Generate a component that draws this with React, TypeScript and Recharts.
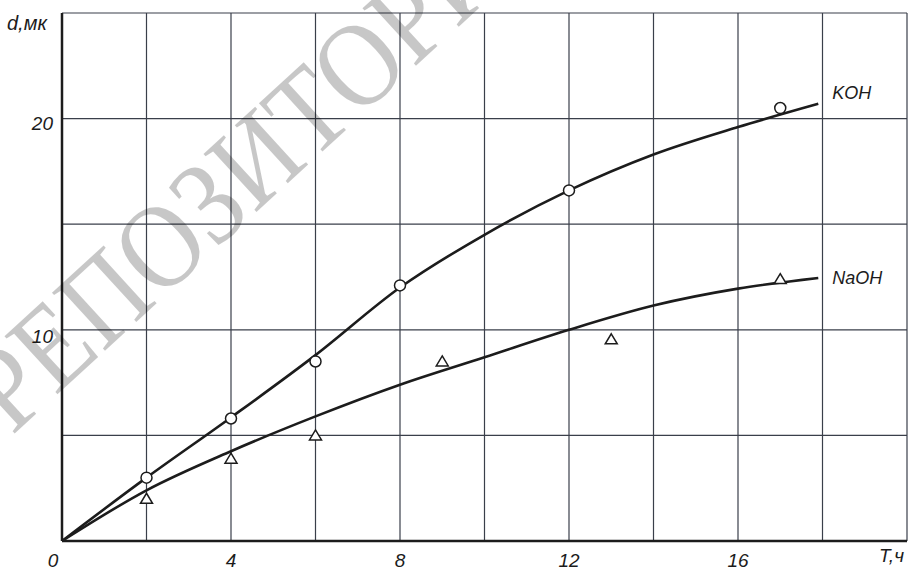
import React from 'react';
import { ComposedChart, Line, Scatter, XAxis, YAxis, CartesianGrid } from 'recharts';

// Smooth fitted curves (T, hours -> d, microns)
const kohCurveT = [0, 2, 4, 6, 8, 10, 12, 14, 16, 17.9];
const kohCurveD = [0, 3.0, 5.85, 8.8, 12.0, 14.5, 16.6, 18.3, 19.6, 20.7];
const naohCurveT = [0, 2, 4, 6, 8, 10, 12, 14, 16, 17.9];
const naohCurveD = [0, 2.4, 4.25, 5.9, 7.4, 8.7, 10.0, 11.15, 11.95, 12.45];

// Measured points
const kohPointT = [2, 4, 6, 8, 12, 17];
const kohPointD = [3.0, 5.8, 8.5, 12.1, 16.6, 20.5];
const naohPointT = [2, 4, 6, 9, 13, 17];
const naohPointD = [2.0, 3.9, 5.0, 8.5, 9.55, 12.4];

const xTicks = [0, 2, 4, 6, 8, 10, 12, 14, 16, 18, 20];
const xLabeled = [0, 4, 8, 12, 16];
const yTicks = [0, 5, 10, 15, 20, 25];
const yLabeled = [10, 20];

const zip = (xs: number[], ys: number[]) => xs.map((x, i) => ({ x, y: ys[i] }));
const kohCurve = zip(kohCurveT, kohCurveD);
const naohCurve = zip(naohCurveT, naohCurveD);
const kohPoints = zip(kohPointT, kohPointD);
const naohPoints = zip(naohPointT, naohPointD);

const FONT = "'Liberation Sans', Arial, sans-serif";
const INK = '#1c1c1c';

const XTick = (p: any) => {
  const v = p.payload.value;
  if (!xLabeled.includes(v)) return <g />;
  return (
    <text x={p.x + (v === 0 ? -9 : 0)} y={p.y + 18} textAnchor="middle" fontFamily={FONT}
      fontStyle="italic" fontSize={19} fill={INK}>{v}</text>
  );
};
const YTick = (p: any) => {
  const v = p.payload.value;
  if (!yLabeled.includes(v)) return <g />;
  return (
    <text x={p.x - 1} y={p.y + (v === 20 ? 11 : 13)} textAnchor="end" fontFamily={FONT}
      fontStyle="italic" fontSize={19} fill={INK}>{v}</text>
  );
};

const Circle = (p: any) => (
  <circle cx={p.cx} cy={p.cy} r={5.5} fill="#fff" stroke={INK} strokeWidth={1.5} />
);
const Triangle = (p: any) => (
  <path d={`M${p.cx},${p.cy - 5.5} L${p.cx + 6},${p.cy + 4.5} L${p.cx - 6},${p.cy + 4.5} Z`}
    fill="#fff" stroke={INK} strokeWidth={1.5} />
);

const endLabel = (name: string, n: number, dy: number) => (p: any) => {
  if (p.index !== n - 1) return <g />;
  return (
    <text x={p.x + 14} y={p.y + dy} fontFamily={FONT} fontStyle="italic" fontSize={18} fill={INK}>
      {name}
    </text>
  );
};

export default function App() {
  return (
    <div style={{ position: 'absolute', left: 0, top: 0, width: 909, height: 570, background: '#fff' }}>
      <ComposedChart width={909} height={570} margin={{ top: 13, right: 2, bottom: 0, left: 0 }}>
        <CartesianGrid stroke="#3a3f4a" strokeWidth={1.2} />
        <XAxis dataKey="x" type="number" domain={[0, 20]} ticks={xTicks} interval={0}
          tickLine={false} axisLine={{ stroke: INK, strokeWidth: 2.5 }} height={29} tick={XTick} />
        <YAxis dataKey="y" type="number" domain={[0, 25]} ticks={yTicks} interval={0}
          tickLine={false} axisLine={{ stroke: INK, strokeWidth: 2.5 }} width={62} tick={YTick} />
        <Line data={kohCurve} dataKey="y" type="monotone" stroke={INK} strokeWidth={2.6}
          dot={false} isAnimationActive={false} label={endLabel('KOH', kohCurve.length, -5)} />
        <Line data={naohCurve} dataKey="y" type="monotone" stroke={INK} strokeWidth={2.6}
          dot={false} isAnimationActive={false} label={endLabel('NaOH', naohCurve.length, 6)} />
        <Scatter data={kohPoints} dataKey="y" shape={Circle} isAnimationActive={false} />
        <Scatter data={naohPoints} dataKey="y" shape={Triangle} isAnimationActive={false} />
      </ComposedChart>
      <div style={{ position: 'absolute', left: 7, top: 12, fontFamily: FONT, fontStyle: 'italic', fontSize: 20, color: INK }}>d,мк</div>
      <div style={{ position: 'absolute', left: 879, top: 545, fontFamily: FONT, fontStyle: 'italic', fontSize: 19, color: INK }}>T,ч</div>
      <svg width={909} height={570} style={{ position: 'absolute', left: 0, top: 0, pointerEvents: 'none' }}>
        <text x={0} y={0} transform="translate(12,436) rotate(-42.5) scale(0.88,1)" fontFamily="'Liberation Serif', serif"
          fontSize={120} fill="#000" fillOpacity={0.22}>РЕПОЗИТОРИЙ</text>
      </svg>
    </div>
  );
}
